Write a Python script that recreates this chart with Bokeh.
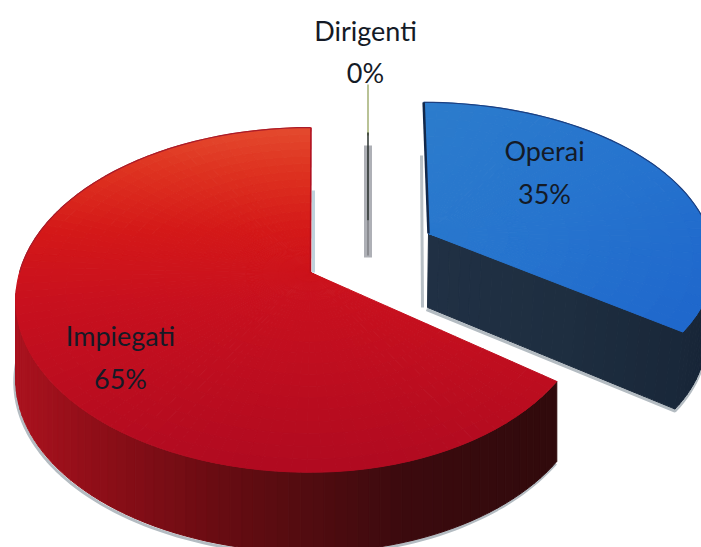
import math
from bokeh.plotting import figure
from bokeh.models import Range1d
from bokeh.core.properties import value
from bokeh.embed import file_html
from bokeh.resources import INLINE

categories = ["Operai", "Impiegati", "Dirigenti"]
shares = [35, 65, 0]
labels = ["35%", "65%", "0%"]

FONT = "Lato"
K = 0.159
DEPTH = 80


def lerp_stops(t, stops):
    if t <= stops[0][0]:
        return stops[0][1]
    for (t0, c0), (t1, c1) in zip(stops, stops[1:]):
        if t <= t1:
            f = (t - t0) / (t1 - t0)
            return tuple(a + (b - a) * f for a, b in zip(c0, c1))
    return stops[-1][1]


def hexc(c):
    return "#%02x%02x%02x" % tuple(int(round(v)) for v in c)


class Slice:
    def __init__(self, cx, cy, a_right, a_left, b, skew=0.0):
        self.cx, self.cy, self.ar, self.al, self.b, self.skew = cx, cy, a_right, a_left, b, skew

    def pt(self, theta, r=1.0):
        t = math.radians(theta)
        u, v = r * math.sin(t), -r * math.cos(t)
        w = 1 - K * v
        a = self.ar if u > 0 else self.al
        y = self.cy + self.b * v / w
        x = self.cx + a * u / w + (y - self.cy) * self.skew
        return x, y

    def rim(self, t0, t1, n):
        return [self.pt(t0 + (t1 - t0) * i / n) for i in range(n + 1)]


spans = []
acc = 0.0
for s in shares:
    spans.append((acc * 3.6, (acc + s) * 3.6))
    acc += s

blue = Slice(428, 233, 281, 281, 152, skew=0.037)
red = Slice(310, 272, 276, 291, 168)

RED_TOP = [(127, (228, 74, 46)), (170, (222, 50, 32)), (230, (212, 24, 24)),
           (300, (200, 16, 30)), (470, (176, 10, 32))]
RED_WALL = [(17, (170, 18, 30)), (100, (142, 14, 24)), (220, (104, 12, 18)),
            (300, (84, 12, 16)), (400, (60, 10, 14)), (557, (48, 10, 12))]
BLUE_TOP = [(0.0, (44, 124, 204)), (0.5, (38, 116, 206)), (1.0, (30, 102, 204))]
BLUE_WALL = [(428, (32, 48, 68)), (560, (30, 46, 64)), (701, (24, 38, 56))]

xs, ys, cols = [], [], []


def add(poly, col):
    xs.append([q[0] for q in poly])
    ys.append([q[1] for q in poly])
    cols.append(col)


def face(sl, t0, t1, colour, n_t=70, n_r=16):
    for i in range(n_t):
        a, b = t0 + (t1 - t0) * i / n_t, t0 + (t1 - t0) * (i + 1) / n_t
        for j in range(n_r):
            r0, r1 = j / n_r, (j + 1) / n_r
            poly = [sl.pt(a, r0), sl.pt(a, r1), sl.pt(b, r1), sl.pt(b, r0)]
            mx = sum(q[0] for q in poly) / 4
            my = sum(q[1] for q in poly) / 4
            add(poly, colour(mx, my))


def wall(sl, t0, t1, stops, depth, dx=0, n=70):
    for i in range(n):
        a = sl.pt(t0 + (t1 - t0) * i / n)
        b = sl.pt(t0 + (t1 - t0) * (i + 1) / n)
        poly = [a, b, (b[0] + dx, b[1] + depth), (a[0] + dx, a[1] + depth)]
        add(poly, hexc(lerp_stops((a[0] + b[0]) / 2, stops)))


p = figure(width=701, height=547, output_backend="svg", toolbar_location=None,
           x_range=Range1d(0, 701), y_range=Range1d(547, 0),
           min_border=0, outline_line_color=None, background_fill_color="white",
           x_axis_type=None, y_axis_type=None)
p.grid.visible = False

b0, b1 = spans[0]
r0, r1 = spans[1]
BLUE_DEPTH = 77
BLUE_SHIFT = -8

# soft scan shadows
GREY = "#b4bcc2"
rb = [(x - 1, y + DEPTH + 2) for x, y in red.rim(r0, 270, 90)]
p.line([q[0] for q in rb], [q[1] for q in rb], line_color=GREY, line_width=3)
tip = blue.pt(b1)
vb = (blue.cx, blue.cy)
sb = [(vb[0] - 2, vb[1] + 76)] + [(x + BLUE_SHIFT, y + BLUE_DEPTH + 2) for x, y in blue.rim(b1, 105, 12)]
p.line([q[0] for q in sb], [q[1] for q in sb], line_color=GREY, line_width=3)
p.line([blue.cx - 7, blue.cx - 6], [155, 307], line_color="#b8c0c6", line_width=3)
p.line([red.cx + 3, red.cx + 3], [190, 272], line_color="#bed2dc", line_width=3)

# Dirigenti: the zero slice
zx = 367.5
p.vbar(x=[zx], bottom=[257], top=[145], width=8, fill_color="#aeb0b6", line_color=None)
p.line([zx, zx], [84, 135], line_color="#8a9a50", line_width=1.2)
p.line([zx, zx], [132, 220], line_color="#1c2420", line_width=1.4)
p.line([zx, zx], [220, 255], line_color="#7a7c80", line_width=1.4)

# walls
wall(red, 265, r0, RED_WALL, DEPTH)
wall(blue, 90, b1, BLUE_WALL, BLUE_DEPTH, dx=BLUE_SHIFT, n=20)
n = 24
bl0 = (vb[0] - 1, vb[1] + 74)
bl1 = (tip[0] + BLUE_SHIFT, tip[1] + BLUE_DEPTH)
for i in range(n):
    f0, f1 = i / n, (i + 1) / n
    q = [(vb[0] + (tip[0] - vb[0]) * f0, vb[1] + (tip[1] - vb[1]) * f0),
         (vb[0] + (tip[0] - vb[0]) * f1, vb[1] + (tip[1] - vb[1]) * f1),
         (bl0[0] + (bl1[0] - bl0[0]) * f1, bl0[1] + (bl1[1] - bl0[1]) * f1),
         (bl0[0] + (bl1[0] - bl0[0]) * f0, bl0[1] + (bl1[1] - bl0[1]) * f0)]
    add(q, hexc(lerp_stops(sum(c[0] for c in q) / 4, BLUE_WALL)))

# faces
face(red, r0, r1, lambda x, y: hexc(lerp_stops(y, RED_TOP)), n_t=90, n_r=18)
face(blue, b0, b1, lambda x, y: hexc(lerp_stops(((x - 423) / 280 + (y - 99) / 230) / 2, BLUE_TOP)), n_t=40, n_r=14)

p.patches(xs, ys, fill_color=cols, line_color=cols, line_width=1)

# dark rims
rt = red.rim(270, r1, 30)
p.line([q[0] for q in rt], [q[1] for q in rt], line_color="#a81c2a", line_width=1.2)
p.line([red.cx, red.cx + 0.5], [red.cy, 127], line_color="#b01020", line_width=1.6)
bt = blue.rim(b0, 90, 40)
p.line([q[0] for q in bt], [q[1] for q in bt], line_color="#1c3f80", line_width=1.2)
p.line([blue.pt(0)[0], blue.cx], [blue.pt(0)[1], blue.cy], line_color="#12284a", line_width=2.5)

# labels
txt_x = [365, 365, 544, 544, 120, 120]
txt_y = [30, 72, 150, 193, 335, 378]
txt = [categories[2], labels[2], categories[0], labels[0], categories[1], labels[1]]
p.text(txt_x, txt_y, text=txt, text_font=value(FONT), text_font_size="27px",
       text_color="#141a26", text_align="center", text_baseline="middle")

open("out.html", "w").write(file_html(p, INLINE))
